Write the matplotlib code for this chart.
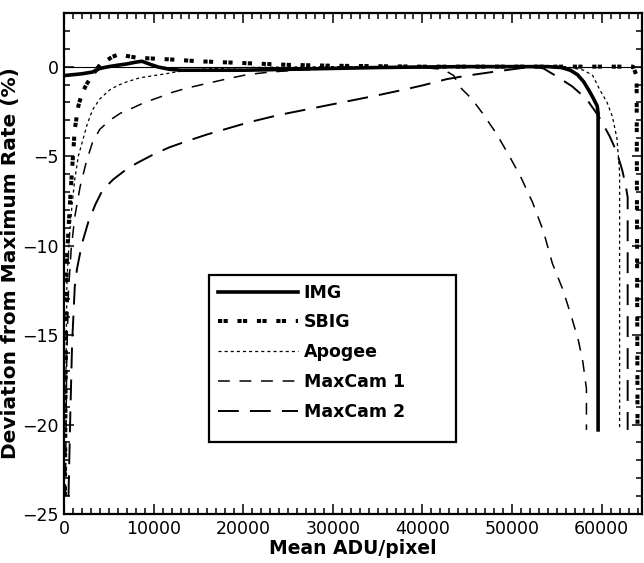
import matplotlib
matplotlib.use("Agg")
import matplotlib.pyplot as plt
from matplotlib.patches import Rectangle
from matplotlib.ticker import MultipleLocator

plt.rcParams["font.family"] = ["DejaVu Sans"]
plt.rcParams["lines.scale_dashes"] = False

# Deviation from maximum rate (%) vs mean ADU/pixel
img_x = [0, 1000, 2000, 3200, 4000, 5000, 6000, 7000, 8000, 8700, 9500, 10500,
         11800, 13000, 16000, 20000, 25000, 30000, 35000, 40000, 45000, 50000,
         54000, 55500, 56500, 57300, 58000, 58600, 59100, 59500, 59600, 59600]
img_y = [-0.5, -0.45, -0.4, -0.3, -0.1, 0.0, 0.08, 0.15, 0.25, 0.3, 0.15, -0.02,
         -0.15, -0.2, -0.2, -0.2, -0.15, -0.1, -0.05, -0.02, 0.0, 0.0,
         0.0, -0.05, -0.2, -0.45, -0.85, -1.35, -1.8, -2.2, -2.6, -20.3]

sbig_x = [100, 200, 300, 500, 700, 1000, 1200, 1600, 2000, 2500, 3000, 4000,
          5400, 6200, 7000, 8100, 10000, 12000, 15000, 20000, 25000, 30000,
          40000, 50000, 55000, 60000, 63500, 63900, 64000]
sbig_y = [-24, -16, -11, -9.1, -7.3, -5.0, -3.5, -2.2, -1.5, -1.0, -0.6, 0.1,
          0.55, 0.7, 0.6, 0.5, 0.45, 0.4, 0.3, 0.2, 0.1, 0.05,
          0.0, 0.0, 0.0, 0.0, 0.0, -0.5, -20.0]

apogee_x = [150, 330, 600, 900, 1200, 1600, 2100, 2600, 3200, 4000, 5100, 6000,
            7000, 8500, 10700, 12500, 14400, 17000, 20000, 30000, 40000, 50000,
            56000, 58000, 59000, 59800, 60600, 61200, 61700, 62000, 62000]
apogee_y = [-20, -11.9, -9.5, -7.7, -6.3, -5.0, -4.1, -3.2, -2.4, -1.8, -1.3, -1.05,
            -0.85, -0.62, -0.45, -0.3, -0.17, -0.1, -0.05, 0.0, 0.0, 0.0,
            0.0, -0.2, -0.5, -1.3, -2.0, -2.8, -4.0, -5.9, -20.3]

maxcam1_x = [150, 300, 500, 800, 1200, 1800, 2500, 3200, 4000, 5100, 6300, 7700,
             9000, 10700, 12000, 13700, 16300, 18500, 20400, 23000, 26000, 30000,
             35000, 40000, 42300, 43500, 44100, 45500, 46700, 48200, 49700, 51000,
             52300, 53500, 54500, 55700, 56700, 57400, 57900, 58300, 58300]
maxcam1_y = [-24, -16.5, -12.5, -10.2, -8.4, -6.7, -5.3, -4.2, -3.5, -3.0, -2.6, -2.3,
             -2.0, -1.7, -1.45, -1.2, -0.9, -0.65, -0.45, -0.3, -0.2, -0.1,
             -0.05, -0.05, -0.15, -0.5, -1.1, -1.8, -2.6, -3.7, -5.0, -6.2,
             -7.6, -9.2, -11.0, -12.5, -14.1, -15.3, -16.5, -18.0, -20.3]

maxcam2_x = [500, 700, 900, 1200, 1450, 2000, 2700, 3500, 4300, 5500, 6800, 8100,
             10000, 11800, 13800, 15900, 18300, 20700, 24000, 28000, 32000, 35000,
             37800, 40000, 42700, 45000, 47800, 50000, 52300, 53500, 55000, 56700,
             58300, 59700, 60900, 61700, 62300, 62700, 62900, 62900]
maxcam2_y = [-24, -19.5, -15.5, -12.3, -11.3, -9.9, -8.7, -7.7, -6.9, -6.3, -5.8, -5.4,
             -4.9, -4.5, -4.15, -3.8, -3.45, -3.1, -2.7, -2.3, -1.9, -1.6,
             -1.3, -1.05, -0.7, -0.5, -0.3, -0.15, 0.0, -0.1, -0.55, -1.1,
             -1.8, -2.8, -3.9, -4.8, -5.8, -6.7, -7.3, -20.3]

labels = ["IMG", "SBIG", "Apogee", "MaxCam 1", "MaxCam 2"]

fig = plt.figure(figsize=(6.44, 5.63), dpi=100)
ax = fig.add_axes([0.0994, 0.087, 0.8975, 0.89])

ax.axhline(0, color="k", lw=0.8, zorder=1)

ax.plot(img_x, img_y, color="k", lw=2.6, solid_joinstyle="round", label=labels[0])
ax.plot(sbig_x, sbig_y, color="k", lw=2.9, dashes=(3, 1, 3, 7),
        dash_capstyle="butt", label=labels[1])
ax.plot(apogee_x, apogee_y, color="k", lw=0.9, dashes=(2.2, 2.2), label=labels[2])
ax.plot(maxcam1_x, maxcam1_y, color="k", lw=1.1, dashes=(8.5, 7), label=labels[3])
ax.plot(maxcam2_x, maxcam2_y, color="k", lw=1.4, dashes=(15, 8), label=labels[4])

ax.set_xlim(0, 64500)
ax.set_ylim(-25, 3)
ax.xaxis.set_major_locator(MultipleLocator(10000))
ax.xaxis.set_minor_locator(MultipleLocator(1000))
ax.yaxis.set_major_locator(MultipleLocator(5))
ax.yaxis.set_minor_locator(MultipleLocator(1))
ax.tick_params(which="both", direction="in", top=True, right=True, width=1.1,
               labelsize=12.5, pad=4)
ax.tick_params(which="major", length=7)
ax.tick_params(which="minor", length=4)
for s in ax.spines.values():
    s.set_linewidth(1.6)

ax.set_xlabel("Mean ADU/pixel", fontsize=13.5, fontweight="bold", labelpad=1)
ax.set_ylabel("Deviation from Maximum Rate (%)", fontsize=14.5,
              fontweight="bold")
ax.yaxis.set_label_coords(-0.077, 0.5)

# legend box is wider/taller than its entries, so draw frame separately
ax.add_patch(Rectangle((0.251, 0.144), 0.427, 0.333, transform=ax.transAxes,
                       fill=False, lw=1.6, ec="k", zorder=5))
handles, lbls = ax.get_legend_handles_labels()
leg = ax.legend(handles, lbls, loc="upper left", bbox_to_anchor=(0.251, 0.477),
                frameon=False, borderaxespad=0, borderpad=0.5,
                handlelength=4.6, handletextpad=0.35, labelspacing=0.68,
                prop={"weight": "bold", "size": 12.5})

fig.savefig("out.png", dpi=100)
